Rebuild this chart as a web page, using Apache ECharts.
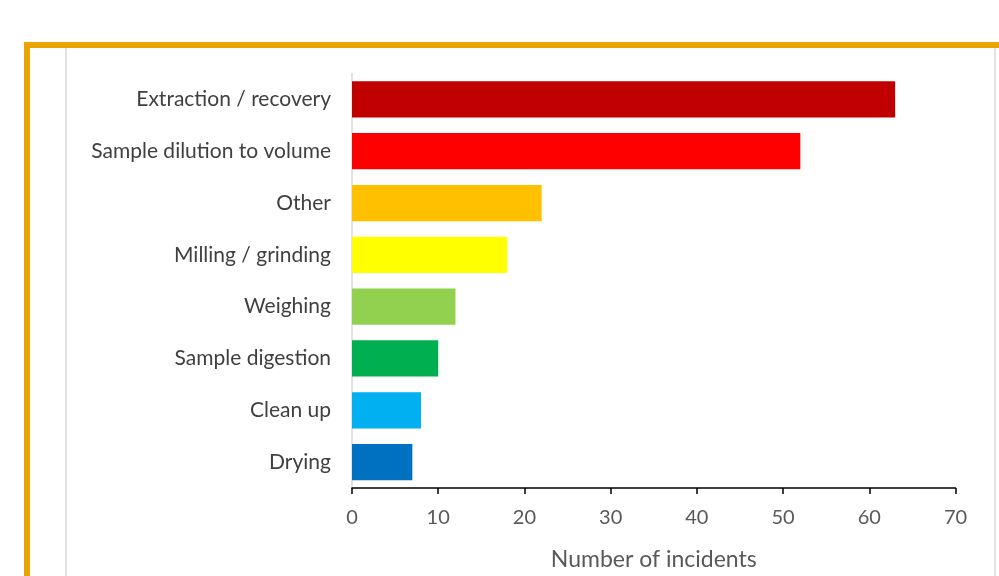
<!DOCTYPE html>
<html>
<head>
<meta charset="utf-8">
<script src="https://cdn.jsdelivr.net/npm/echarts@6/dist/echarts.min.js"></script>
<style>
  html, body { margin: 0; padding: 0; background: #fff; }
  #chart { width: 999px; height: 576px; }
</style>
</head>
<body>
<div id="chart"></div>
<script>
// Incident categories, listed top to bottom
const categories = [
  'Extraction / recovery',
  'Sample dilution to volume',
  'Other',
  'Milling / grinding',
  'Weighing',
  'Sample digestion',
  'Clean up',
  'Drying'
];
const incidents = [63, 52, 22, 18, 12, 10, 8, 7];
const barColors = ['#C00000', '#FF0000', '#FFC000', '#FFFF00', '#92D050', '#00B050', '#00B0F0', '#0070C0'];
const xTicks = { min: 0, max: 70, interval: 10 };

const font = 'Lato, "Open Sans", sans-serif';
const chart = echarts.init(document.getElementById('chart'));

chart.setOption({
  animation: false,
  backgroundColor: '#ffffff',
  graphic: [
    // outer frame
    { type: 'rect', shape: { x: 27, y: 45, width: 1100, height: 700 },
      style: { fill: 'none', stroke: '#EBA300', lineWidth: 6 }, z: 10 },
    // inner panel edges
    { type: 'line', shape: { x1: 66, y1: 48, x2: 66, y2: 576 },
      style: { stroke: '#E3E3E3', lineWidth: 2 } },
    { type: 'line', shape: { x1: 995, y1: 48, x2: 995, y2: 576 },
      style: { stroke: '#E3E3E3', lineWidth: 2 } }
  ],
  grid: { left: 352, right: 43.5, top: 73.5, bottom: 88, containLabel: false },
  xAxis: {
    type: 'value',
    min: xTicks.min, max: xTicks.max, interval: xTicks.interval,
    name: 'Number of incidents',
    nameLocation: 'middle',
    nameGap: 60,
    nameTextStyle: { fontFamily: font, fontSize: 23, color: '#595959' },
    axisLine: { show: true, lineStyle: { color: '#000', width: 1.5 } },
    axisTick: { show: true, length: 6, lineStyle: { color: '#000', width: 1.5 } },
    axisLabel: { fontFamily: font, fontSize: 20, color: '#595959', margin: 20 },
    splitLine: { show: false }
  },
  yAxis: {
    type: 'category',
    data: categories,
    inverse: true,
    axisLine: { show: true, lineStyle: { color: '#D9D9D9', width: 1.5 } },
    axisTick: { show: false },
    axisLabel: { fontFamily: font, fontSize: 21, color: '#404040', margin: 21 },
    splitLine: { show: false }
  },
  series: [{
    type: 'bar',
    data: incidents.map((v, i) => ({ value: v, itemStyle: { color: barColors[i] } })),
    barCategoryGap: '30%'
  }]
});
</script>
</body>
</html>
